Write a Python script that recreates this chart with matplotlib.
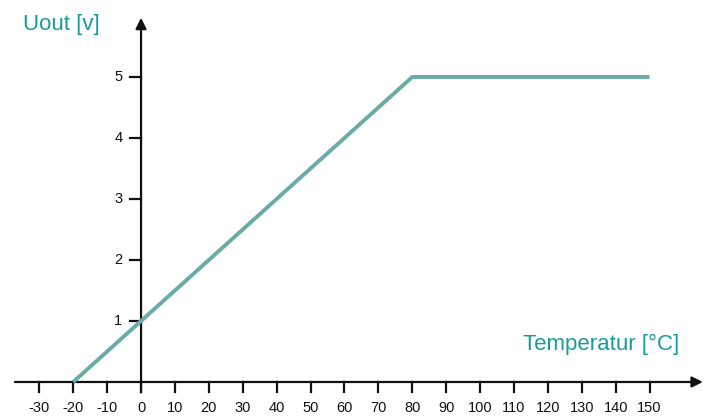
import matplotlib
matplotlib.use('Agg')
import matplotlib.pyplot as plt
import numpy as np

plt.rcParams['font.family'] = ['Liberation Sans', 'DejaVu Sans']

# data
temp = [-20, 80, 150]
uout = [0, 5, 5]
x_ticks = list(range(-30, 151, 10))
y_ticks = [1, 2, 3, 4, 5]

line_color = '#6aaba7'
text_color = '#1a9c96'

fig = plt.figure(figsize=(7.12, 4.17), dpi=100)
ax = fig.add_axes([0, 0, 1, 1])
ax.set_xlim(-41.6, 168.4)
ax.set_ylim(-0.574, 6.262)
ax.axis('off')

# axes with arrows
ax.annotate('', xy=(165.7, 0), xytext=(-37.2, 0),
            arrowprops=dict(arrowstyle='-|>', color='#111111', lw=1.6,
                            mutation_scale=16, shrinkA=0, shrinkB=0))
ax.annotate('', xy=(0, 5.97), xytext=(0, -0.17),
            arrowprops=dict(arrowstyle='-|>', color='#111111', lw=1.6,
                            mutation_scale=16, shrinkA=0, shrinkB=0))

# ticks
for t in x_ticks:
    ax.plot([t, t], [0, -0.17], color='#111111', lw=1.6)
    ax.text(t, -0.43, str(t), ha='center', va='center', fontsize=10.5, color='#111111')
for t in y_ticks:
    ax.plot([-3.4, 0], [t, t], color='#111111', lw=1.6)
    ax.text(-6.7, t, str(t), ha='center', va='center', fontsize=10.5, color='#111111')

ax.plot(temp, uout, color=line_color, lw=2.8, solid_capstyle='butt', zorder=3)

ax.text(-34.8, 5.86, 'Uout [v]', fontsize=16, color=text_color, ha='left', va='center',
        fontweight='medium')
ax.text(112.7, 0.62, 'Temperatur [°C]', fontsize=16, color=text_color, ha='left', va='center',
        fontweight='medium')

fig.savefig('out.png', dpi=100)
